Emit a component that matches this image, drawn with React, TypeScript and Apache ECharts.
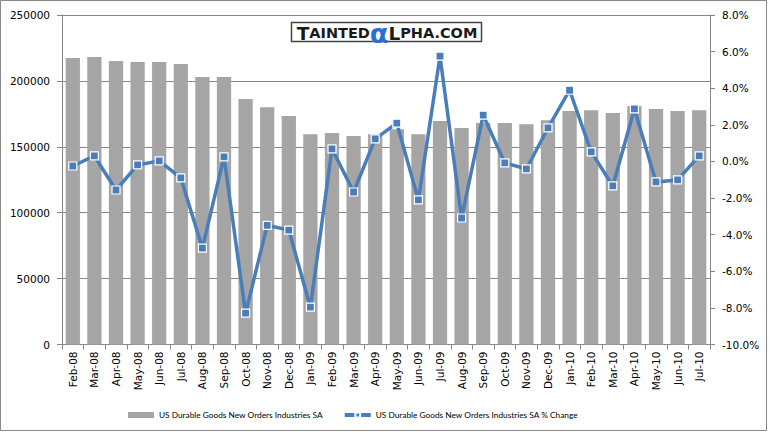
import React, { useEffect, useRef } from "react";
import * as echarts from "echarts";

const categories = [
  "Feb-08", "Mar-08", "Apr-08", "May-08", "Jun-08", "Jul-08", "Aug-08", "Sep-08", "Oct-08", "Nov-08",
  "Dec-08", "Jan-09", "Feb-09", "Mar-09", "Apr-09", "May-09", "Jun-09", "Jul-09", "Aug-09", "Sep-09",
  "Oct-09", "Nov-09", "Dec-09", "Jan-10", "Feb-10", "Mar-10", "Apr-10", "May-10", "Jun-10", "Jul-10",
];

const ordersSA = [
  217400, 218100, 215100, 214300, 214300, 212800, 202900, 202900, 186200, 180100,
  173300, 159600, 160400, 158100, 159600, 163400, 159600, 169500, 164200, 168000,
  168000, 167200, 170200, 177100, 177800, 175600, 180900, 178600, 177100, 177800,
];

const pctChange = [
  -0.25, 0.3, -1.56, -0.19, 0.03, -0.9, -4.73, 0.25, -8.29, -3.49,
  -3.75, -7.96, 0.69, -1.67, 1.23, 2.09, -2.1, 5.75, -3.09, 2.53,
  -0.08, -0.41, 1.83, 3.89, 0.52, -1.34, 2.87, -1.12, -1.01, 0.3,
];

const leftTicks = { min: 0, max: 250000, interval: 50000 };
const rightTicks = { min: -10, max: 8, interval: 2 };

const barName = "US Durable Goods New Orders Industries SA";
const lineName = "US Durable Goods New Orders Industries SA % Change";

export default function App() {
  const ref = useRef<HTMLDivElement>(null);
  useEffect(() => {
    if (!ref.current) return;
    const chart = echarts.init(ref.current, undefined, { renderer: "svg" });
    const axisColor = "#868686";
    const labelFont = { color: "#000", fontFamily: "DejaVu Sans", fontSize: 10.5 };
    chart.setOption({
      animation: false,
      backgroundColor: "#fff",
      grid: { left: 62, right: 59, top: 15, bottom: 88.5, containLabel: false },
      legend: {
        left: 123,
        top: 406,
        itemGap: 20,
        itemWidth: 26,
        itemHeight: 6,
        lineStyle: { width: 4 },
        textStyle: { color: "#000", fontFamily: "Lato", fontSize: 8.3 },
        data: [
          { name: barName, icon: "rect" },
          { name: lineName },
        ],
      },
      graphic: [
        {
          type: "rect",
          shape: { x: 0.5, y: 0.5, width: 766, height: 430 },
          style: { fill: "none", stroke: "#888", lineWidth: 1 },
          silent: true,
        },
        {
          type: "rect",
          shape: { x: 291.5, y: 22.5, width: 190, height: 19 },
          style: { fill: "#fff", stroke: "#444", lineWidth: 1.5 },
          z: 100,
        },
        {
          type: "text",
          x: 387,
          y: 33,
          z: 101,
          style: {
            text: "{big|T}{sm|AINTED}{al|α}{big|L}{sm|PHA.COM}",
            align: "center",
            verticalAlign: "middle",
            rich: {
              big: { fontFamily: "DejaVu Sans", fontSize: 18.5, fill: "#1a1a1a", fontWeight: 600 },
              sm: { fontFamily: "DejaVu Sans", fontSize: 14.5, fill: "#1a1a1a", fontWeight: 600 },
              al: { fontFamily: "DejaVu Sans", fontSize: 27, fill: "#2a6fd6", fontWeight: "bold" },
            },
          },
        },
      ],
      xAxis: {
        type: "category",
        data: categories,
        boundaryGap: true,
        axisLine: { lineStyle: { color: axisColor } },
        axisTick: { show: true, alignWithLabel: false, length: 5, lineStyle: { color: axisColor } },
        axisLabel: { ...labelFont, rotate: 90, interval: 0, margin: 7 },
      },
      yAxis: [
        {
          type: "value",
          position: "left",
          ...leftTicks,
          axisLine: { show: true, lineStyle: { color: axisColor } },
          axisTick: { show: true, length: 5, lineStyle: { color: axisColor } },
          axisLabel: { ...labelFont, margin: 12, formatter: (v: number) => String(v) },
          splitLine: { show: true, lineStyle: { color: axisColor, width: 1 } },
        },
        {
          type: "value",
          position: "right",
          ...rightTicks,
          axisLine: { show: true, lineStyle: { color: axisColor } },
          axisTick: { show: true, length: 5, lineStyle: { color: axisColor } },
          axisLabel: { ...labelFont, margin: 12, formatter: (v: number) => v.toFixed(1) + "%" },
          splitLine: { show: false },
        },
      ],
      series: [
        {
          name: barName,
          type: "bar",
          data: ordersSA,
          yAxisIndex: 0,
          barCategoryGap: "34%",
          itemStyle: { color: "#a5a5a5" },
        },
        {
          name: lineName,
          type: "line",
          data: pctChange,
          yAxisIndex: 1,
          symbol: "rect",
          symbolSize: 8,
          showAllSymbol: true,
          lineStyle: { color: "#4a7ebb", width: 3.5 },
          itemStyle: { color: "#4a7ebb", borderColor: "#fff", borderWidth: 1.2 },
          z: 5,
        },
      ],
    });
    return () => chart.dispose();
  }, []);
  return (
    <div
      ref={ref}
      style={{ position: "fixed", left: 0, top: 0, width: 769, height: 433 }}
    />
  );
}
